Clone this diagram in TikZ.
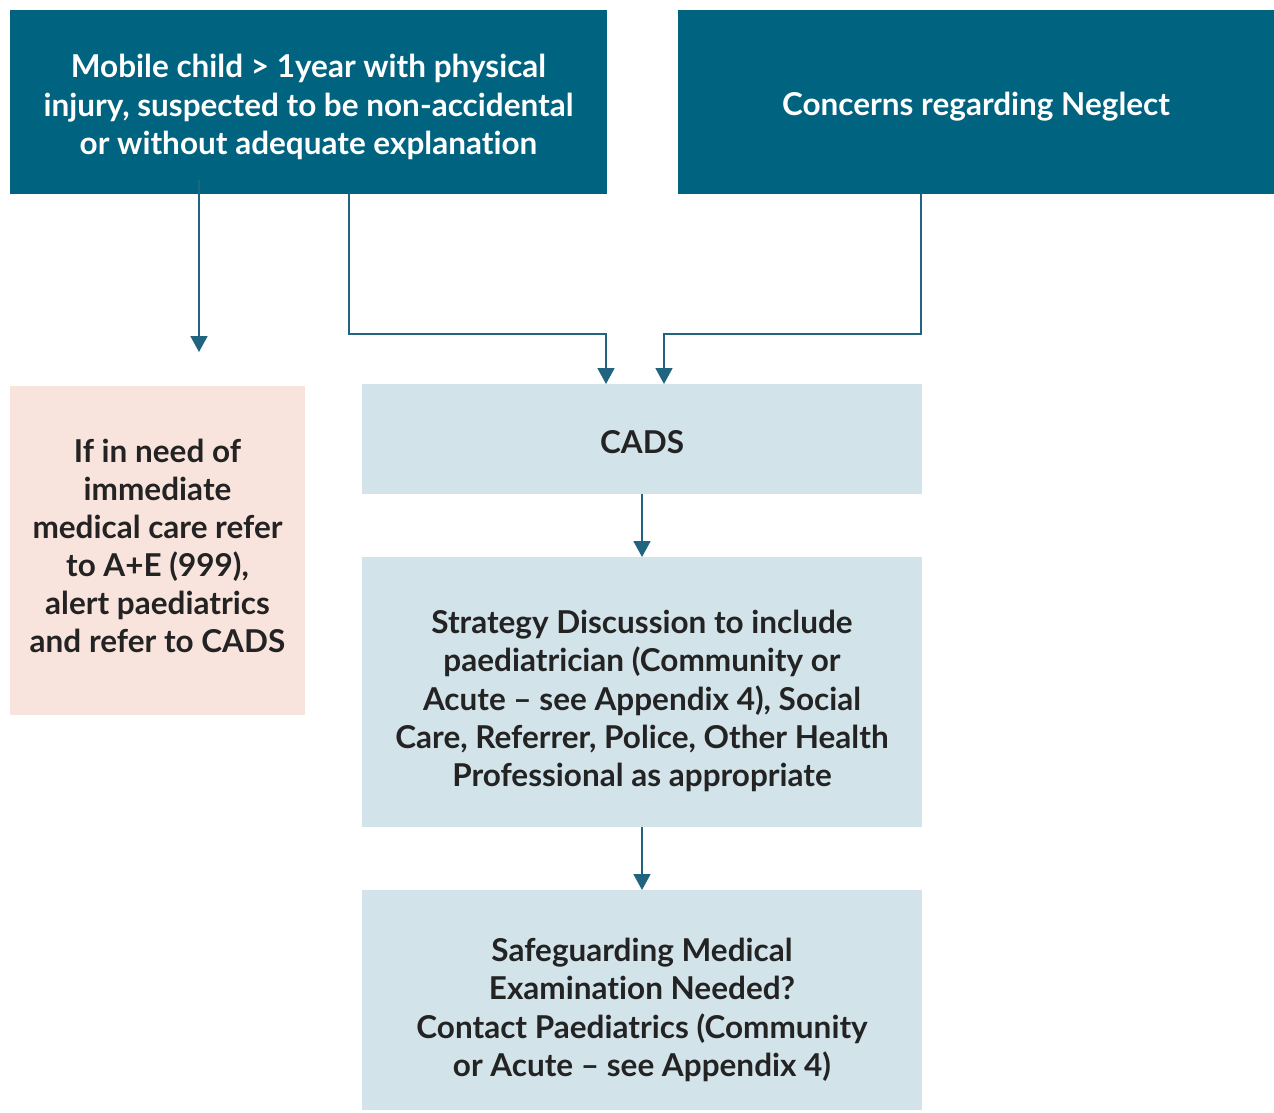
\documentclass[tikz,border=0pt]{standalone}
\usepackage{fontspec}
\setmainfont{Lato}[Ligatures={NoCommon}]
\usetikzlibrary{arrows.meta}
\definecolor{teal}{RGB}{0,99,128}
\definecolor{pinkbg}{RGB}{249,228,221}
\definecolor{bluebg}{RGB}{211,227,234}
\definecolor{linec}{RGB}{32,100,128}
\definecolor{txt}{RGB}{35,35,35}
\begin{document}
\begin{tikzpicture}[x=1pt,y=-1pt,
  boxbase/.style={rectangle,inner sep=0pt,outer sep=0pt},
  darkbox/.style={boxbase,fill=teal},
  pinkbox/.style={boxbase,fill=pinkbg},
  lightbox/.style={boxbase,fill=bluebg},
  lbl/.style={inner sep=0pt,align=center,font=\fontsize{31.5}{38.3}\selectfont\bfseries,text=txt},
  wlbl/.style={lbl,text=white},
  conn/.style={draw=linec,line width=1.8pt,-{Triangle[length=16pt,width=17pt]}}]
\useasboundingbox (0,0) rectangle (1274,1112);
% boxes
\node[darkbox,minimum width=597pt,minimum height=184pt] (inj) at (308.5,102) {};
\node[darkbox,minimum width=596pt,minimum height=184pt] (neg) at (976,102) {};
\node[pinkbox,minimum width=295pt,minimum height=329pt] (ae) at (157.5,550.5) {};
\node[lightbox,minimum width=560pt,minimum height=110pt] (cads) at (642,439) {};
\node[lightbox,minimum width=560pt,minimum height=270pt] (strat) at (642,692) {};
\node[lightbox,minimum width=560pt,minimum height=220pt] (safe) at (642,1000) {};
% texts
\node[wlbl] (injt) at ([yshift=-5pt]inj.center) {Mobile child > 1year with physical\\injury, suspected to be non-accidental\\or without adequate explanation};
\node[wlbl] (negt) at ([yshift=-5pt]neg.center) {Concerns regarding Neglect};
\node[lbl,font=\fontsize{31.5}{38}\selectfont\bfseries] (aet) at ([yshift=5pt]ae.center) {If in need of\\immediate\\medical care refer\\to A+E (999),\\alert paediatrics\\and refer to CADS};
\node[lbl] (cadst) at ([yshift=-3pt]cads.center) {CADS};
\node[lbl] (stratt) at ([yshift=-9pt]strat.center) {Strategy Discussion to include\\paediatrician (Community or\\Acute -- see Appendix 4), Social\\Care, Referrer, Police, Other Health\\Professional as appropriate};
\node[lbl] (safet) at ([yshift=-10pt]safe.center) {Safeguarding Medical\\Examination Needed?\\Contact Paediatrics (Community\\or Acute -- see Appendix 4)};
% connector helper points
\coordinate (s1) at (199,180);
\coordinate (e1) at (199,352);
\coordinate (t1) at (349,194);
\coordinate (t2) at (921,194);
% connectors
\draw[conn] (s1) -- (e1);
\draw[conn] (t1) |- (606,334) -- (606,384);
\draw[conn] (t2) |- (664,334) -- (664,384);
\draw[conn] (cads.south) -- (strat.north);
\draw[conn] (strat.south) -- (safe.north);
\end{tikzpicture}
\end{document}
